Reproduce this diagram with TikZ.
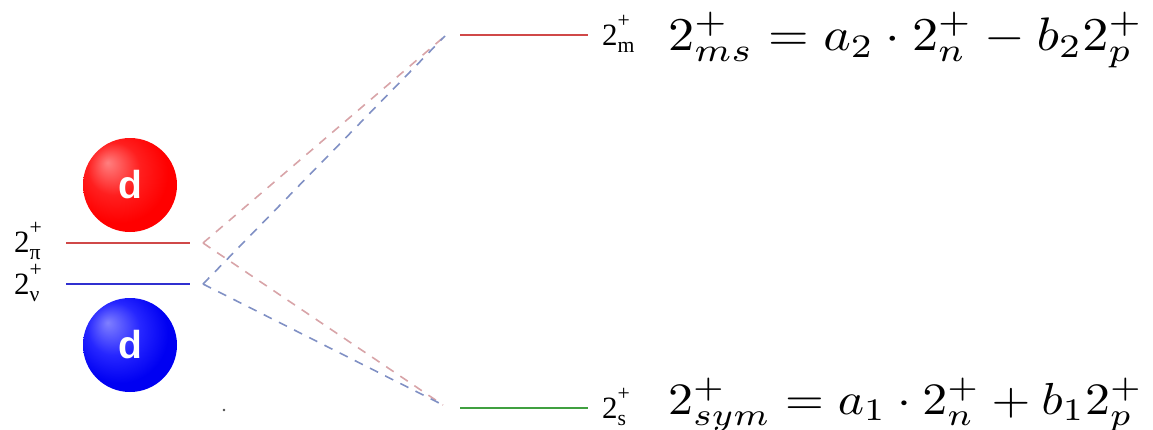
\documentclass[tikz,border=0pt]{standalone}
\usepackage{fontspec}
\setmainfont{Liberation Serif}
\newfontfamily\dfont{Liberation Sans}
\usepackage{amsmath}
\usepackage{graphicx}
\pgfdeclareradialshading{redball}{\pgfpoint{-12bp}{12bp}}{color(0bp)=(red!50!white); color(14bp)=(red!88!white); color(26bp)=(red); color(50bp)=(red)}
\pgfdeclareradialshading{blueball}{\pgfpoint{-12bp}{12bp}}{color(0bp)=(blue!50!white); color(14bp)=(blue!85!white); color(26bp)=(blue!95!black); color(50bp)=(blue!95!black)}
\definecolor{lvred}{HTML}{D04848}
\definecolor{lvblue}{HTML}{3030D0}
\definecolor{lvgreen}{HTML}{40A040}
\definecolor{dred}{HTML}{D8A4A8}
\definecolor{dblue}{HTML}{8090C4}
\newcommand{\lvl}[1]{\scalebox{3.1}{\normalsize 2\rlap{\raisebox{0.55em}{\scriptsize +}}\raisebox{-0.25em}{\scriptsize #1}}}
\newcommand{\eqbox}[1]{\scalebox{1}[0.9]{\resizebox{475pt}{!}{$#1$}}}
\begin{document}
\begin{tikzpicture}[x=1pt,y=-1pt,
  level/.style={line width=1.8pt},
  mix/.style={line width=1.6pt,dash pattern=on 9pt off 8pt},
  ball/.style={circle,minimum size=94pt,inner sep=0pt,text=white},
  lab/.style={anchor=base west,inner sep=0pt},
  eq/.style={anchor=base west,inner sep=0pt}]
\useasboundingbox (0,0) rectangle (1153,429);
% balls
\node[ball,shading=redball] (dp) at (130,185) {\scalebox{3.9}{\dfont\bfseries d}};
\node[ball,shading=blueball] (dn) at (130,345) {\scalebox{3.9}{\dfont\bfseries d}};
% left levels
\coordinate (pia) at (66,243); \coordinate (pib) at (190,243);
\coordinate (nua) at (66,284); \coordinate (nub) at (190,284);
\draw[level,lvred] (pia) -- (pib);
\draw[level,lvblue] (nua) -- (nub);
\node[lab] (lpi) at (14,252) {\lvl{π}};
\node[lab] (lnu) at (14,294) {\lvl{ν}};
% right levels
\coordinate (ma) at (460,35); \coordinate (mb) at (588,35);
\coordinate (sa) at (460,408); \coordinate (sb) at (588,408);
\draw[level,lvred] (ma) -- (mb);
\draw[level,lvgreen] (sa) -- (sb);
\node[lab] (lm) at (602,45) {\lvl{m}};
\node[lab] (ls) at (602,418) {\lvl{s}};
% mixing lines
\coordinate (pic) at (203,243); \coordinate (nuc) at (203,284);
\coordinate (mc) at (445,36); \coordinate (sc) at (443,405);
\draw[mix,dred] (pic) -- (mc);
\draw[mix,dred] (pic) -- (sc);
\draw[mix,dblue] (nuc) -- (mc);
\draw[mix,dblue] (nuc) -- (sc);
% equations
\node[eq] (eqm) at (668,50) {\eqbox{2^{+}_{ms}=a_2\cdot 2^{+}_{n}-b_2 2^{+}_{p}}};
\node[eq] (eqs) at (668,414) {\eqbox{2^{+}_{sym}=a_1\cdot 2^{+}_{n}+b_1 2^{+}_{p}}};
% stray dot
\fill[black!70] (224,410) circle (1.3pt);
\end{tikzpicture}
\end{document}
